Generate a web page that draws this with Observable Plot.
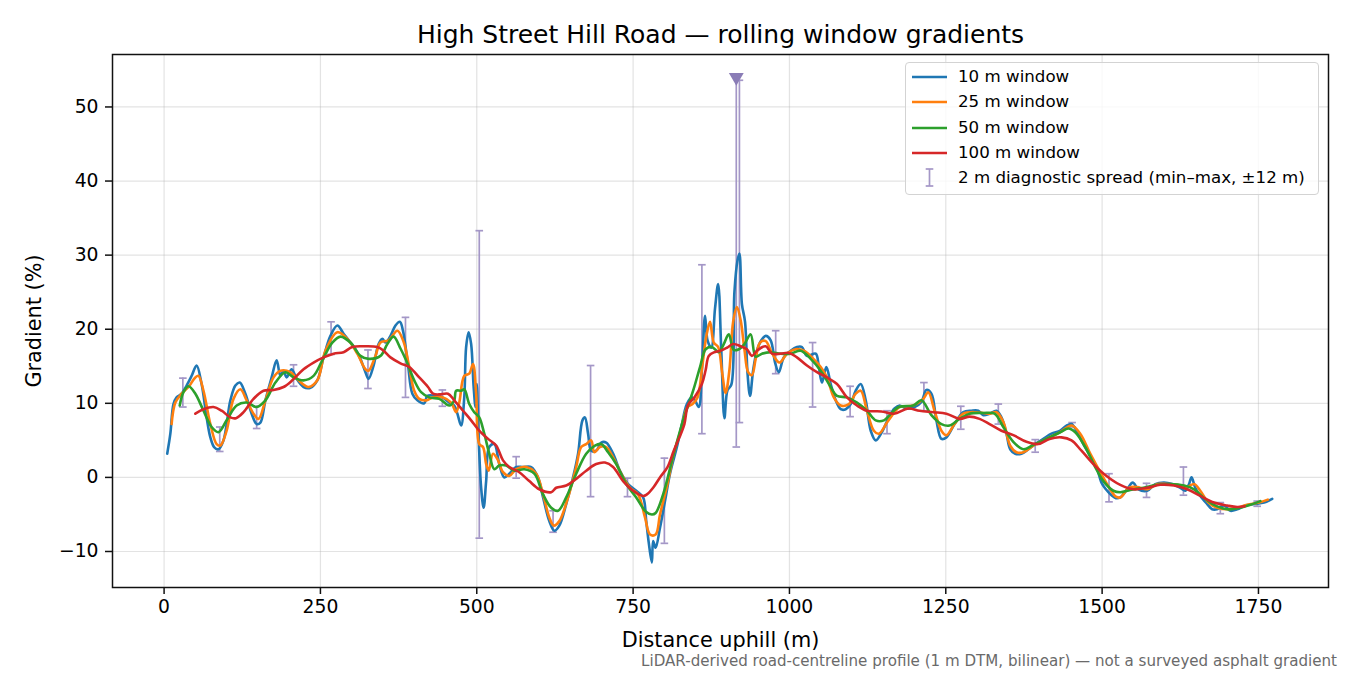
<!DOCTYPE html>
<html><head><meta charset="utf-8">
<script src="https://cdn.jsdelivr.net/npm/d3@7"></script>
<script src="https://cdn.jsdelivr.net/npm/@observablehq/plot@0.6"></script>
<style>
html,body{margin:0;padding:0;background:#fff;}
#wrap{position:relative;width:1350px;height:675px;font-family:"DejaVu Sans",sans-serif;}
#legend{position:absolute;left:905px;top:62px;width:414px;height:133px;border:1.4px solid #d3d3d3;border-radius:4px;background:rgba(255,255,255,0.8);box-sizing:border-box;}
.row{position:absolute;left:0;height:22px;width:100%;}
.row span{position:absolute;left:52px;top:0;line-height:22px;font-size:16.67px;white-space:nowrap;color:#000;}
.row svg{position:absolute;left:4px;top:0;}
</style></head><body>
<div id="wrap"><div id="chart"></div><div id="legend"></div></div>
<script>
// ---- data ----
const seriesNames = ["10 m window", "25 m window", "50 m window", "100 m window"];
const seriesColors = ["#1f77b4", "#ff7f0e", "#2ca02c", "#d62728"];
const spreadName = "2 m diagnostic spread (min\u2013max, \u00b112 m)";
const xTicks = [0, 250, 500, 750, 1000, 1250, 1500, 1750];
const yTicks = [-10, 0, 10, 20, 30, 40, 50];

const dist10 = [5,10,15,20,28,36,44,52,60,68,74,80,87,95,106,114,121,130,140,148,154,162,172,180,186,191,196,204,212,223,234,245,255,266,277,287,298,306,314,322,327,335,343,349,354,362,370,377,382,390,397,405,416,421,435,445,456,464,469,475,480,483,487,491,495,498,500,503,507,511,515,520,528,536,544,552,563,574,587,598,606,616,624,632,643,654,662,669,673,678,683,691,699,707,718,729,742,755,766,771,775,780,782,786,793,801,809,820,828,836,844,849,855,860,865,869,875,881,886,891,896,901,907,912,917,920,924,929,933,937,942,948,955,962,970,977,983,991,1002,1012,1020,1028,1042,1047,1052,1059,1066,1074,1082,1090,1098,1106,1114,1122,1130,1138,1149,1160,1168,1176,1187,1200,1211,1219,1227,1235,1243,1251,1264,1278,1291,1302,1310,1320,1331,1339,1347,1353,1361,1371,1382,1393,1406,1419,1433,1443,1451,1459,1470,1481,1491,1499,1505,1515,1522,1529,1540,1549,1558,1572,1585,1599,1612,1625,1633,1639,1643,1649,1657,1668,1676,1684,1695,1705,1716,1729,1743,1759,1772];
const grad10 = [3.2,5.9,9.9,10.8,11.3,12.4,13.7,15.1,12.6,8.1,5.4,4.1,3.8,5.0,10.4,12.4,12.8,11.3,8.6,7.2,7.4,10.4,13.5,15.8,13.7,14.4,13.5,14.6,13.3,12.2,12.1,13.1,16.2,19.1,20.5,19.4,18.2,17.3,16.0,14.2,13.3,15.1,18.0,18.7,18.2,19.1,20.5,21.0,19.8,15.2,11.3,10.4,10.0,11.0,11.0,10.8,10.1,9.7,8.6,7.0,10.8,17.6,19.6,18.0,12.2,9.5,12.6,5.4,-1.4,-4.1,-0.5,4.1,4.5,1.8,0,0.5,1.4,1.4,1.4,0,-2.7,-5.9,-7.2,-6.5,-3.6,0,3.2,7.7,8.1,5.9,3.6,3.6,4.7,4.7,3.2,0.9,-0.9,-1.8,-2.7,-5.9,-8.8,-11.5,-8.6,-9.5,-6.8,-3.2,0.5,4.1,7.2,9.9,10.8,10.4,9.5,14.5,21.8,18.5,17.5,22.8,26.1,17.1,8.0,11.8,12.5,25.0,29.3,30.2,23.4,21.0,14.0,11.0,14.5,17.1,18.5,19.1,18.5,15.5,14.2,16.2,17.1,17.6,17.6,16.4,16.7,14.9,12.8,14.9,12.6,10.4,9.2,9.2,9.9,11.7,12.6,10.4,6.3,5.0,6.3,8.3,9.3,9.7,9.3,9.5,10.2,11.8,11.3,7.7,5.2,5.4,7.2,8.8,9.0,9.0,8.4,8.6,9.0,8.1,5.9,3.8,3.2,3.2,3.8,4.5,5.2,5.9,6.3,7.0,7.2,6.3,4.5,2.9,1.4,-0.7,-1.5,-2.4,-2.8,-2.7,-1.6,-0.7,-1.6,-1.8,-0.9,-0.7,-0.9,-1.4,-1.8,-0.9,0,-1.4,-2.5,-3.6,-4.3,-4.3,-3.8,-4.5,-4.3,-3.8,-3.6,-3.4,-2.9];

const dist25 = [12,18,28,39,50,55,63,74,84,90,100,111,122,132,143,151,162,175,186,202,215,231,245,258,277,293,309,322,327,338,346,359,373,383,392,400,408,419,430,446,459,467,472,480,488,494,499,504,510,515,519,526,534,542,552,563,579,595,606,616,623,632,646,659,667,675,683,688,697,707,718,731,745,758,769,777,786,793,805,815,826,837,845,853,861,867,873,879,886,892,898,904,910,916,922,928,934,940,946,953,962,972,984,996,1010,1023,1036,1050,1060,1071,1082,1095,1106,1114,1124,1135,1143,1156,1170,1176,1198,1214,1222,1232,1243,1251,1264,1278,1299,1320,1331,1342,1353,1363,1374,1390,1411,1433,1451,1465,1481,1497,1513,1522,1529,1543,1556,1572,1588,1604,1620,1636,1647,1657,1670,1684,1700,1716,1732,1751,1765];
const grad25 = [7.2,10.1,11.3,12.2,13.5,13.7,11.7,7.2,4.5,4.3,6.3,10.6,11.9,10.4,8.6,7.9,10.4,13.5,14.4,14.2,13.1,12.2,13.1,17.1,19.6,18.7,16.7,14.6,14.4,16.4,18.2,18.5,19.8,18.3,14.9,11.7,10.6,10.4,10.8,10.8,10.1,8.8,10.1,13.7,14.0,15.3,11.3,4.5,4.1,1.8,0.9,3.2,2.3,0.7,0.2,1.1,1.4,0.5,-2.3,-5.4,-6.5,-5.9,-2.7,1.4,4.1,4.5,5.0,3.4,4.1,4.1,2.7,0.5,-1.4,-2.3,-5.4,-7.7,-7.7,-5.0,-0.9,3.2,6.3,9.5,9.9,10.8,15.3,19.0,21.0,18.2,17.6,14.4,11.4,14.5,21.0,23.0,21.2,17.3,14.2,13.8,16.0,18.2,18.4,16.8,15.5,16.7,17.3,17.1,16.2,14.9,13.5,10.8,9.7,9.9,11.3,11.7,9.0,6.3,5.9,7.4,9.0,9.5,9.7,10.6,11.5,9.0,6.3,5.7,7.2,8.6,8.8,8.6,8.8,7.5,4.3,3.4,3.4,4.3,5.2,6.1,7.0,5.9,3.2,0.7,-1.6,-2.6,-2.7,-1.4,-1.3,-1.6,-0.9,-0.9,-1.0,-1.3,-0.9,-1.8,-3.4,-4.1,-4.3,-4.1,-3.7,-3.4,-3.0];

const dist50 = [25,31,39,50,63,76,87,100,116,132,148,162,178,194,207,223,239,253,269,282,298,314,327,346,357,367,378,387,400,411,424,440,456,464,467,475,480,488,496,504,512,520,528,536,547,560,576,592,606,619,630,643,659,675,689,699,710,723,739,755,770,780,786,798,815,830,846,857,866,876,887,895,903,911,919,928,938,946,956,970,986,1002,1018,1034,1050,1066,1076,1092,1108,1124,1138,1151,1160,1175,1198,1211,1227,1243,1256,1272,1288,1310,1328,1342,1358,1374,1390,1411,1433,1446,1457,1473,1489,1502,1518,1529,1545,1566,1588,1609,1631,1647,1662,1679,1700,1721,1737,1753];
const grad50 = [9.7,11.5,12.3,11.3,9.0,6.8,6.1,7.7,9.7,10.1,9.5,10.4,12.8,14.2,13.5,13.1,13.7,15.8,18.2,19.0,18.2,16.4,16.0,16.4,18.0,19.0,17.4,15.8,13.1,11.5,10.8,10.6,9.7,10.4,11.7,11.7,11.9,9.9,8.8,8.1,5.9,3.2,1.1,1.6,1.6,0.9,1.1,0.5,-2.3,-4.1,-4.5,-2.7,0.5,3.2,4.3,4.5,3.4,1.8,-0.9,-2.7,-4.6,-5.0,-4.8,-2.3,3.2,7.7,11.7,14.9,17.3,17.6,16.9,18.0,19.3,17.2,17.3,18.0,19.3,16.3,16.7,16.9,16.7,16.7,17.1,16.0,14.4,12.2,11.0,10.8,10.1,9.0,7.7,7.7,8.4,9.5,9.7,10.4,8.4,7.2,7.0,7.9,8.6,8.7,8.6,6.8,4.8,3.8,4.4,5.2,6.1,6.6,6.1,4.1,1.4,-0.5,-1.8,-2.0,-1.7,-1.4,-1.0,-0.9,-1.1,-1.6,-2.7,-3.7,-4.3,-4.1,-3.7,-3.2];

const dist100 = [50,63,79,92,106,115,127,143,159,175,191,205,223,239,255,271,287,301,319,341,351,362,378,392,408,422,430,440,454,464,478,491,504,518,531,542,552,568,584,600,619,627,643,659,675,691,705,718,734,750,766,772,782,793,805,815,826,832,838,848,860,866,871,880,890,900,910,922,932,940,948,962,972,986,999,1012,1028,1044,1060,1076,1092,1108,1124,1147,1167,1190,1208,1230,1251,1272,1288,1304,1320,1339,1358,1379,1398,1416,1435,1451,1467,1486,1507,1529,1550,1572,1593,1615,1636,1657,1679,1700,1716,1728];
const grad100 = [8.6,9.2,9.5,9.0,8.1,8.0,8.8,10.6,11.7,11.8,12.2,13.1,14.6,15.5,16.2,16.7,16.9,17.6,17.7,17.6,17.1,16.2,15.4,14.9,13.5,12.2,11.3,11.2,11.3,10.4,9.0,7.7,6.3,5.2,4.3,2.3,1.4,0.7,-0.5,-1.6,-2.0,-1.4,-1.1,-0.2,0.9,1.8,2.0,1.4,-0.5,-1.8,-2.5,-2.3,-1.4,0,1.4,3.6,5.8,7.2,9.8,10.8,12.6,14.5,16.4,16.9,17.1,17.5,18.0,17.7,17.3,16.4,17.1,17.7,16.7,16.7,16.8,16.2,15.1,14.2,13.5,12.6,10.8,9.7,9.0,8.9,8.6,9.3,9.0,8.8,8.6,7.9,8.2,7.9,7.2,6.3,5.7,4.8,4.5,5.2,5.4,5.0,3.6,1.8,0.2,-1.0,-1.6,-1.4,-1.0,-1.1,-1.6,-2.5,-3.4,-3.8,-4.0,-3.9];

const spreadX  = [30,89,148,207,267,326,386,445,504,563,622,682,741,800,860,915,920,978,1037,1097,1156,1215,1274,1334,1393,1452,1511,1571,1630,1689,1748];
const spreadLo = [9.5,3.5,6.6,12.3,16.6,12.0,10.8,9.6,-8.2,-0.1,-7.4,-2.6,-2.6,-8.9,5.9,4.1,7.4,14.0,9.5,8.2,5.9,9.0,6.5,7.2,3.4,6.8,-3.3,-2.7,-2.4,-4.9,-3.9];
const spreadHi = [13.4,6.8,9.6,15.2,21.0,17.2,21.6,11.8,33.3,2.8,-4.5,15.1,-0.1,2.6,28.7,54.0,53.6,19.8,18.2,12.3,9.0,12.8,9.6,9.9,5.1,7.4,0.5,-0.8,1.4,-3.4,-3.2];
const peakSpreadX = [915];
const peakSpreadY = [54.0];

const titleText = "High Street Hill Road \u2014 rolling window gradients";
const xLabel = "Distance uphill (m)";
const yLabel = "Gradient (%)";
const captionText = "LiDAR-derived road-centreline profile (1 m DTM, bilinear) \u2014 not a surveyed asphalt gradient";

// ---- build ----
const zip = (xs, ys) => xs.map((x, i) => ({x, y: ys[i]}));
const seriesData = [zip(dist10, grad10), zip(dist25, grad25), zip(dist50, grad50), zip(dist100, grad100)];
const spread = spreadX.map((x, i) => ({x, lo: spreadLo[i], hi: spreadHi[i]}));
const peak = peakSpreadX.map((x, i) => ({x, y: peakSpreadY[i]}));

const spreadColor = "#a497c7";
const capSymbol = {draw(ctx, size) { const r = Math.sqrt(size / Math.PI); ctx.moveTo(-r, 0); ctx.lineTo(r, 0); }};
const numFmt = d => d < 0 ? "\u2212" + Math.abs(d) : String(d);

const chart = Plot.plot({
  width: 1350, height: 675,
  marginTop: 54, marginRight: 22, marginBottom: 88, marginLeft: 112,
  style: {fontFamily: "DejaVu Sans, sans-serif", fontSize: "18.75px", color: "#000", background: "#fff", overflow: "visible"},
  x: {domain: [-82.5, 1862]},
  y: {domain: [-14.86, 57.08]},
  marks: [
    Plot.gridX(xTicks, {stroke: "#b0b0b0", strokeOpacity: 0.35, strokeWidth: 1.2}),
    Plot.gridY(yTicks, {stroke: "#b0b0b0", strokeOpacity: 0.35, strokeWidth: 1.2}),
    Plot.ruleX(spread, {x: "x", y1: "lo", y2: "hi", stroke: spreadColor, strokeWidth: 1.7}),
    Plot.dot(spread, {x: "x", y: "lo", symbol: capSymbol, r: 3.8, stroke: spreadColor, fill: "none", strokeWidth: 1.7}),
    Plot.dot(spread, {x: "x", y: "hi", symbol: capSymbol, r: 3.8, stroke: spreadColor, fill: "none", strokeWidth: 1.7}),
    Plot.dot(peak, {x: "x", y: "y", symbol: "triangle", rotate: 180, r: 5.5, fill: "#8a7cb6", stroke: "none"}),
    ...seriesData.map((d, i) => Plot.line(d, {x: "x", y: "y", stroke: seriesColors[i], strokeWidth: 2.6, curve: "catmull-rom"})),
    Plot.frame({stroke: "#111", strokeWidth: 1.5}),
    Plot.axisX(xTicks, {tickSize: 7, tickPadding: 5, strokeWidth: 1.5, stroke: "#111", label: null, fontSize: 18.75, tickFormat: numFmt}),
    Plot.axisY(yTicks, {tickSize: 7, tickPadding: 7, strokeWidth: 1.5, stroke: "#111", label: null, fontSize: 18.75, tickFormat: numFmt}),
    Plot.text([titleText], {text: d => d, frameAnchor: "top", lineAnchor: "middle", textAnchor: "middle", dy: -20, fontSize: 25, fill: "#000"}),
    Plot.text([xLabel], {text: d => d, frameAnchor: "bottom", lineAnchor: "middle", textAnchor: "middle", dy: 53, fontSize: 20.8, fill: "#000"}),
    Plot.text([yLabel], {text: d => d, frameAnchor: "left", lineAnchor: "middle", textAnchor: "middle", dx: -78, rotate: -90, fontSize: 20.8, fill: "#000"}),
    Plot.text([captionText], {text: d => d, frameAnchor: "bottom-right", lineAnchor: "middle", textAnchor: "end", dx: 8.5, dy: 74, fontSize: 15.1, fill: "#6a6a6a"})
  ]
});
document.getElementById("chart").appendChild(chart);

// ---- legend (HTML overlay) ----
const legend = document.getElementById("legend");
const rowCenters = [15, 40.3, 65.6, 90.9, 116.2];
seriesNames.forEach((name, i) => {
  const row = document.createElement("div");
  row.className = "row";
  row.style.top = (rowCenters[i] - 12) + "px";
  row.innerHTML = `<svg width="40" height="22"><line x1="2" x2="37" y1="11" y2="11" stroke="${seriesColors[i]}" stroke-width="2.6"/></svg><span>${name}</span>`;
  legend.appendChild(row);
});
{
  const row = document.createElement("div");
  row.className = "row";
  row.style.top = (rowCenters[4] - 12) + "px";
  row.innerHTML = `<svg width="40" height="22"><g stroke="${spreadColor}" stroke-width="1.7"><line x1="19.5" x2="19.5" y1="2" y2="19"/><line x1="15.7" x2="23.3" y1="2" y2="2"/><line x1="15.7" x2="23.3" y1="19" y2="19"/></g></svg><span>${spreadName}</span>`;
  legend.appendChild(row);
}
</script></body></html>
